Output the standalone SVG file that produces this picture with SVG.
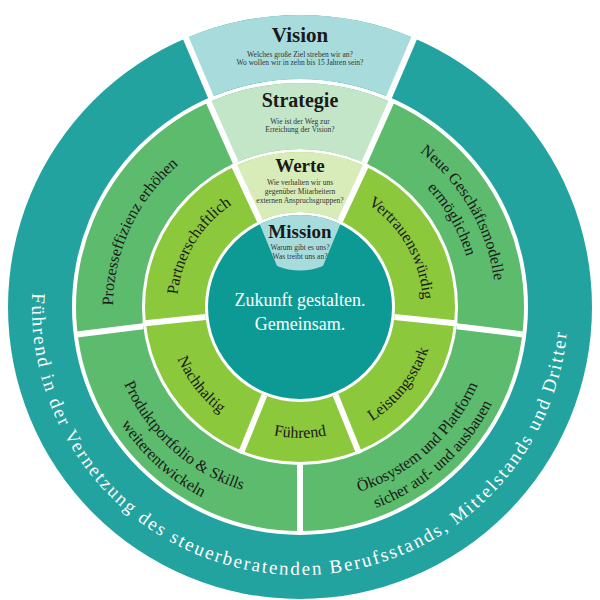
<svg xmlns="http://www.w3.org/2000/svg" width="600" height="600" viewBox="0 0 600 600">
<style>
text{font-family:"Liberation Serif","DejaVu Serif",serif;fill:#1a1a1a}
.t{font-weight:bold;text-anchor:middle}
.s{font-size:7.5px;text-anchor:middle;fill:#333}
.w{fill:#fff}
.div line{stroke:#fff;stroke-width:6}
</style>
<defs>
<path id="pOuter" d="M32.4,293 A267.6,267.6 0 0 0 300,575 A267.6,267.6 0 0 0 567.6,321"/>
<path id="pProz" d="M146.8,414.3 A187,187 0 0 1 283.7,120.7"/>
<path id="pNeue1" d="M300,111 A196,196 0 0 1 469.7,405"/>
<path id="pNeue2" d="M300,133 A174,174 0 0 1 450.7,394"/>
<path id="pProd1" d="M112.2,267.1 A192,192 0 0 0 359.3,489.6"/>
<path id="pProd2" d="M90.7,262.5 A214,214 0 0 0 366.1,510.5"/>
<path id="pOeko1" d="M240,491.5 A194,194 0 0 0 489.8,266.7"/>
<path id="pOeko2" d="M233.6,511.4 A215,215 0 0 0 510.3,262.3"/>
<path id="pPart" d="M192.4,366.6 A123,123 0 0 1 302.1,184"/>
<path id="pVert" d="M300,184 A123,123 0 0 1 406.5,368.5"/>
<path id="pNach" d="M176.7,257.2 A133,133 0 0 0 318.5,438.7"/>
<path id="pLeis" d="M281.2,440.7 A135,135 0 0 0 425.2,256.4"/>
<path id="pFuehr" d="M186.6,372.5 A131,131 0 0 0 413.4,372.5"/>
</defs>
<g id="rings">
<circle cx="300" cy="307" r="292" fill="#22a39f"/>
<circle cx="300" cy="307" r="228" fill="#fff"/>
<circle cx="300" cy="307" r="224" fill="#5cbb6c"/>
<circle cx="300" cy="307" r="158" fill="#fff"/>
<circle cx="300" cy="307" r="155" fill="#8cc83c"/>
<circle cx="300" cy="307" r="95" fill="#fff"/>
<circle cx="300" cy="307" r="92" fill="#0d9a94"/>
</g>
<g id="vision">
<path d="M185.9,38.2 A292,292 0 0 1 414.1,38.2 L389.1,97.1 A228,228 0 0 0 210.9,97.1 Z" fill="#a8dcdc"/>
<text class="t" x="300" y="42" font-size="21">Vision</text>
<text class="s" x="300" y="57">Welches große Ziel streben wir an?</text>
<text class="s" x="300" y="65">Wo wollen wir in zehn bis 15 Jahren sein?</text>
</g>
<g id="strategie">
<path d="M208.9,102.4 A224,224 0 0 1 391.1,102.4 L364.3,162.7 A158,158 0 0 0 235.7,162.7 Z" fill="#c3e5c8"/>
<text class="t" x="300" y="107" font-size="20">Strategie</text>
<text class="s" x="300" y="124">Wie ist der Weg zur</text>
<text class="s" x="300" y="132">Erreichung der Vision?</text>
</g>
<g id="werte">
<path d="M234.5,166.5 A155,155 0 0 1 365.5,166.5 L340.1,220.9 A95,95 0 0 0 259.9,220.9 Z" fill="#d7ecb8"/>
<text class="t" x="300" y="172" font-size="19">Werte</text>
<text class="s" x="300" y="185">Wie verhalten wir uns</text>
<text class="s" x="300" y="194">gegenüber Mitarbeitern</text>
<text class="s" x="300" y="203">externen Anspruchsgruppen?</text>
</g>
<g id="mission">
<path d="M259.7,224.3 A92,92 0 0 1 340.3,224.3 L323,266 Q300,275 277,266 Z" fill="#a8dcdc"/>
<text class="t" x="300" y="238" font-size="19">Mission</text>
<text class="s" x="300" y="250">Warum gibt es uns?</text>
<text class="s" x="300" y="259">Was treibt uns an?</text>
</g>
<g id="center">
<text class="w" x="300" y="306" font-size="18" text-anchor="middle">Zukunft gestalten.</text>
<text class="w" x="300" y="330" font-size="18" text-anchor="middle">Gemeinsam.</text>
</g>
<g id="connectors" class="div">
<line x1="212.1" y1="99.9" x2="184.7" y2="35.5"/>
<line x1="387.9" y1="99.9" x2="415.3" y2="35.5"/>
<line x1="235.7" y1="162.7" x2="207.7" y2="99.6"/>
<line x1="364.3" y1="162.7" x2="392.3" y2="99.6"/>
<line x1="456.8" y1="326.3" x2="525.3" y2="334.7"/>
<line x1="143.2" y1="326.3" x2="74.7" y2="334.7"/>
<line x1="300" y1="465" x2="300" y2="534"/>
<line x1="259.9" y1="220.9" x2="233.2" y2="163.8"/>
<line x1="340.1" y1="220.9" x2="366.8" y2="163.8"/>
<line x1="394.5" y1="316.9" x2="457.1" y2="323.5"/>
<line x1="205.5" y1="316.9" x2="142.9" y2="323.5"/>
<line x1="264.4" y1="395.1" x2="240.8" y2="453.5"/>
<line x1="335.6" y1="395.1" x2="359.2" y2="453.5"/>
</g>
<g id="outer-label">
<text class="w" font-size="19"><textPath href="#pOuter" textLength="830" lengthAdjust="spacing">Führend in der Vernetzung des steuerberatenden Berufsstands, Mittelstands und Dritter</textPath></text>
</g>
<g id="ring2-labels">
<text font-size="16" text-anchor="middle"><textPath href="#pProz" startOffset="50%">Prozesseffizienz erhöhen</textPath></text>
<text font-size="16" text-anchor="middle"><textPath href="#pNeue1" startOffset="50%">Neue Geschäftsmodelle</textPath></text>
<text font-size="16" text-anchor="middle"><textPath href="#pNeue2" startOffset="50%">ermöglichen</textPath></text>
<text font-size="16" text-anchor="middle"><textPath href="#pProd1" startOffset="50%">Produktportfolio &amp; Skills</textPath></text>
<text font-size="16" text-anchor="middle"><textPath href="#pProd2" startOffset="50%">weiterentwickeln</textPath></text>
<text font-size="16" text-anchor="middle"><textPath href="#pOeko1" startOffset="50%">Ökosystem und Plattform</textPath></text>
<text font-size="16" text-anchor="middle"><textPath href="#pOeko2" startOffset="50%">sicher auf- und ausbauen</textPath></text>
</g>
<g id="ring1-labels">
<text font-size="16" text-anchor="middle"><textPath href="#pPart" startOffset="50%">Partnerschaftlich</textPath></text>
<text font-size="16" text-anchor="middle"><textPath href="#pVert" startOffset="50%">Vertrauenswürdig</textPath></text>
<text font-size="16" text-anchor="middle"><textPath href="#pNach" startOffset="50%">Nachhaltig</textPath></text>
<text font-size="16" text-anchor="middle"><textPath href="#pLeis" startOffset="50%">Leistungsstark</textPath></text>
<text font-size="16" text-anchor="middle"><textPath href="#pFuehr" startOffset="50%">Führend</textPath></text>
</g>
</svg>
